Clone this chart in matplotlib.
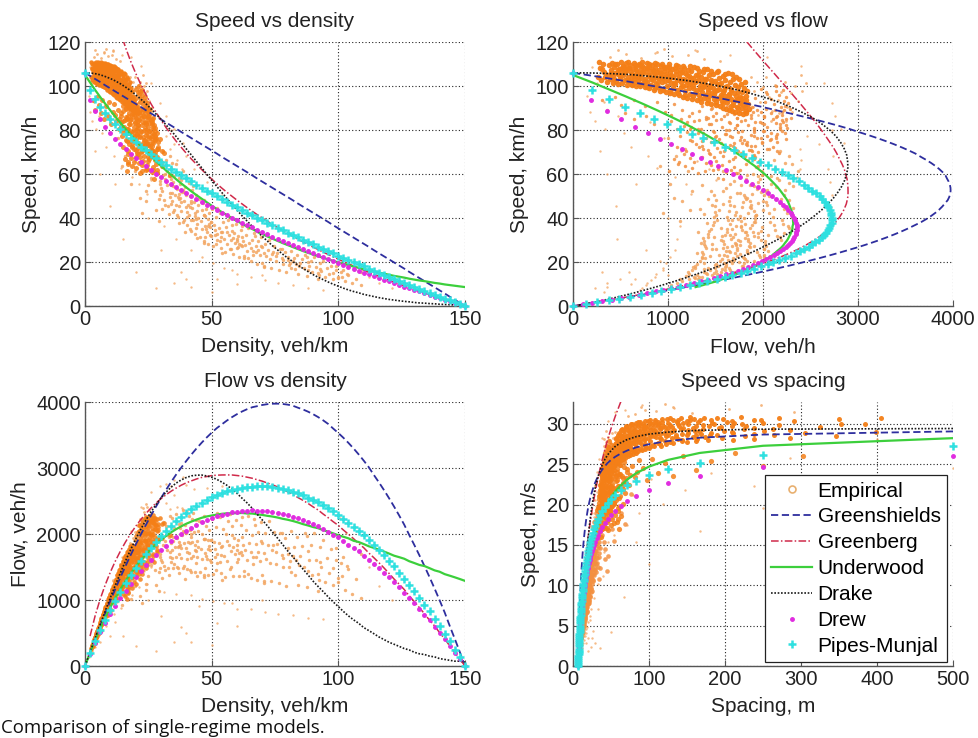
import numpy as np
import matplotlib
matplotlib.use("Agg")
import matplotlib.pyplot as plt
from matplotlib.lines import Line2D

plt.rcParams['font.family'] = ['Liberation Sans', 'DejaVu Sans']

# ---------------- data: model speeds (km/h) at each density (veh/km) ----------------
density = [0, 2, 4, 6, 8, 10, 12, 14, 16, 18, 20, 22, 24, 26, 28, 30, 32, 34, 36, 38,
           40, 42, 44, 46, 48, 50, 52, 54, 56, 58, 60, 62, 64, 66, 68, 70, 72, 74, 76, 78,
           80, 82, 84, 86, 88, 90, 92, 94, 96, 98, 100, 102, 104, 106, 108, 110, 112, 114,
           116, 118, 120, 122, 124, 126, 128, 130, 132, 134, 136, 138, 140, 142, 144, 146,
           148, 150]

v_greenshields = [106.0, 104.6, 103.2, 101.8, 100.3, 98.9, 97.5, 96.1, 94.7, 93.3,
                  91.9, 90.5, 89.0, 87.6, 86.2, 84.8, 83.4, 82.0, 80.6, 79.1,
                  77.7, 76.3, 74.9, 73.5, 72.1, 70.7, 69.3, 67.8, 66.4, 65.0,
                  63.6, 62.2, 60.8, 59.4, 57.9, 56.5, 55.1, 53.7, 52.3, 50.9,
                  49.5, 48.1, 46.6, 45.2, 43.8, 42.4, 41.0, 39.6, 38.2, 36.7,
                  35.3, 33.9, 32.5, 31.1, 29.7, 28.3, 26.9, 25.4, 24.0, 22.6,
                  21.2, 19.8, 18.4, 17.0, 15.5, 14.1, 12.7, 11.3, 9.9, 8.5,
                  7.1, 5.7, 4.2, 2.8, 1.4, 0.0]

v_greenberg = [np.nan, 226.7, 190.3, 169.0, 153.9, 142.2, 132.6, 124.5, 117.5, 111.3,
               105.8, 100.8, 96.2, 92.0, 88.1, 84.5, 81.1, 77.9, 74.9, 72.1,
               69.4, 66.8, 64.4, 62.1, 59.8, 57.7, 55.6, 53.6, 51.7, 49.9,
               48.1, 46.4, 44.7, 43.1, 41.5, 40.0, 38.5, 37.1, 35.7, 34.3,
               33.0, 31.7, 30.4, 29.2, 28.0, 26.8, 25.7, 24.5, 23.4, 22.3,
               21.3, 20.2, 19.2, 18.2, 17.2, 16.3, 15.3, 14.4, 13.5, 12.6,
               11.7, 10.8, 10.0, 9.2, 8.3, 7.5, 6.7, 5.9, 5.1, 4.4,
               3.6, 2.9, 2.1, 1.4, 0.7, 0.0]

v_underwood = [105.0, 101.6, 98.2, 95.0, 91.9, 88.9, 86.0, 83.2, 80.4, 77.8,
               75.2, 72.8, 70.4, 68.1, 65.8, 63.7, 61.6, 59.6, 57.6, 55.7,
               53.9, 52.1, 50.4, 48.8, 47.2, 45.6, 44.1, 42.7, 41.3, 39.9,
               38.6, 37.4, 36.1, 35.0, 33.8, 32.7, 31.6, 30.6, 29.6, 28.6,
               27.7, 26.8, 25.9, 25.0, 24.2, 23.4, 22.7, 21.9, 21.2, 20.5,
               19.8, 19.2, 18.6, 17.9, 17.4, 16.8, 16.2, 15.7, 15.2, 14.7,
               14.2, 13.7, 13.3, 12.9, 12.4, 12.0, 11.6, 11.3, 10.9, 10.5,
               10.2, 9.8, 9.5, 9.2, 8.9, 8.6]

v_drake = [106.0, 105.9, 105.6, 105.1, 104.3, 103.4, 102.3, 101.0, 99.5, 97.9,
           96.0, 94.1, 92.0, 89.7, 87.3, 84.9, 82.3, 79.7, 77.0, 74.2,
           71.4, 68.6, 65.7, 62.9, 60.0, 57.2, 54.4, 51.6, 48.9, 46.2,
           43.6, 41.0, 38.6, 36.2, 33.8, 31.6, 29.5, 27.4, 25.5, 23.6,
           21.8, 20.2, 18.6, 17.1, 15.7, 14.3, 13.1, 12.0, 10.9, 9.9,
           9.0, 8.1, 7.3, 6.6, 6.0, 5.3, 4.8, 4.3, 3.8, 3.4,
           3.0, 2.7, 2.4, 2.1, 1.9, 1.6, 1.4, 1.3, 1.1, 1.0,
           0.8, 0.7, 0.6, 0.5, 0.5, 0.4]

v_drew = [106.0, 93.8, 88.7, 84.8, 81.5, 78.6, 76.0, 73.6, 71.4, 69.3,
          67.3, 65.4, 63.6, 61.9, 60.2, 58.6, 57.0, 55.5, 54.1, 52.6,
          51.3, 49.9, 48.6, 47.3, 46.0, 44.8, 43.6, 42.4, 41.2, 40.1,
          39.0, 37.9, 36.8, 35.7, 34.6, 33.6, 32.6, 31.5, 30.5, 29.6,
          28.6, 27.6, 26.7, 25.7, 24.8, 23.9, 23.0, 22.1, 21.2, 20.3,
          19.5, 18.6, 17.7, 16.9, 16.1, 15.2, 14.4, 13.6, 12.8, 12.0,
          11.2, 10.4, 9.6, 8.8, 8.1, 7.3, 6.6, 5.8, 5.1, 4.3,
          3.6, 2.9, 2.1, 1.4, 0.7, 0.0]

v_pipes = [106.0, 98.1, 94.0, 90.6, 87.7, 85.1, 82.7, 80.5, 78.3, 76.3,
           74.4, 72.5, 70.7, 69.0, 67.3, 65.6, 64.1, 62.5, 61.0, 59.5,
           58.0, 56.6, 55.2, 53.8, 52.5, 51.2, 49.9, 48.6, 47.3, 46.1,
           44.8, 43.6, 42.4, 41.2, 40.1, 38.9, 37.8, 36.6, 35.5, 34.4,
           33.3, 32.2, 31.2, 30.1, 29.0, 28.0, 27.0, 25.9, 24.9, 23.9,
           22.9, 21.9, 20.9, 19.9, 19.0, 18.0, 17.0, 16.1, 15.2, 14.2,
           13.3, 12.4, 11.4, 10.5, 9.6, 8.7, 7.8, 6.9, 6.1, 5.2,
           4.3, 3.4, 2.6, 1.7, 0.9, 0.0]

# ---------------- data: empirical observations ----------------
# free-flow core, read as (flow veh/h, speed km/h)
emp_free_qv = [
    (262, 104.3), (281, 108.1), (297, 102.6), (315, 110.2), (328, 106.4), (341, 103.9), (305, 107.7), (273, 110.8),
    (356, 101.8), (368, 105.2), (377, 109.4), (389, 103.1), (396, 107.3), (408, 110.6), (417, 104.7), (426, 101.2),
    (435, 108.5), (444, 106.0), (453, 102.4), (461, 109.8), (469, 105.6), (478, 100.9), (486, 107.9), (494, 103.7),
    (503, 110.9), (511, 106.8), (519, 101.5), (527, 104.9), (536, 108.7), (544, 102.9), (552, 106.2), (559, 110.3),
    (566, 100.6), (574, 104.1), (581, 108.0), (589, 102.2), (597, 106.9), (604, 109.6), (612, 103.4), (619, 100.3),
    (627, 107.5), (634, 105.0), (642, 110.5), (648, 101.9), (653, 104.6), (661, 108.9), (668, 99.8), (676, 106.3),
    (683, 102.8), (691, 110.0), (698, 105.4), (705, 100.7), (712, 107.8), (720, 103.6), (727, 109.3), (735, 101.3),
    (742, 105.9), (748, 108.2), (754, 99.4), (761, 103.0), (768, 107.0), (776, 110.4), (783, 101.6), (790, 105.2),
    (797, 108.6), (805, 98.9), (812, 104.3), (819, 106.7), (826, 100.4), (834, 109.7), (841, 102.7), (848, 106.1),
    (853, 98.3), (860, 104.8), (867, 108.4), (874, 101.1), (881, 106.5), (888, 110.1), (895, 99.6), (902, 103.5),
    (909, 107.2), (916, 97.9), (923, 105.7), (930, 109.0), (937, 101.9), (944, 104.0), (951, 98.1), (958, 106.9),
    (965, 102.4), (972, 108.8), (979, 97.4), (986, 104.6), (993, 100.2), (1000, 107.6), (1007, 103.2), (1014, 109.9),
    (1021, 96.8), (1028, 105.1), (1035, 101.5), (1042, 107.9), (1049, 99.0), (1056, 103.9), (1063, 96.2), (1070, 108.3),
    (1077, 100.8), (1084, 105.5), (1091, 98.4), (1098, 102.9), (1105, 109.2), (1112, 95.7), (1119, 104.2), (1126, 107.1),
    (1133, 99.7), (1140, 101.8), (1147, 106.4), (1154, 95.1), (1161, 103.3), (1168, 108.0), (1175, 97.6), (1182, 105.8),
    (1189, 100.5), (1196, 94.6), (1203, 102.1), (1210, 107.4), (1217, 98.9), (1224, 104.5), (1231, 96.4), (1238, 101.2),
    (1245, 106.8), (1252, 94.0), (1259, 99.3), (1266, 103.7), (1273, 108.6), (1280, 96.9), (1287, 101.6), (1294, 105.2),
    (1301, 93.5), (1308, 98.2), (1315, 102.8), (1322, 107.0), (1329, 95.8), (1336, 100.1), (1343, 104.3), (1350, 92.9),
    (1357, 97.3), (1364, 106.2), (1371, 99.6), (1378, 94.7), (1385, 103.1), (1392, 101.0), (1399, 96.1), (1406, 107.7),
    (1413, 92.4), (1420, 98.8), (1427, 104.9), (1434, 95.3), (1441, 100.6), (1448, 102.5), (1455, 91.8), (1462, 96.7),
    (1469, 105.4), (1476, 99.1), (1483, 93.9), (1490, 102.3), (1497, 97.8), (1504, 91.2), (1511, 100.9), (1518, 106.5),
    (1525, 94.5), (1532, 98.5), (1539, 103.6), (1546, 90.7), (1553, 96.0), (1560, 101.4), (1567, 93.2), (1574, 104.7),
    (1581, 90.1), (1588, 98.0), (1595, 95.4), (1602, 102.6), (1609, 89.6), (1616, 99.9), (1623, 92.8), (1630, 105.9),
    (1637, 96.5), (1644, 89.2), (1651, 101.7), (1658, 94.1), (1665, 98.6), (1672, 88.7), (1679, 103.2), (1686, 91.5),
    (1693, 96.8), (1700, 100.3), (1707, 88.2), (1714, 93.7), (1721, 104.1), (1728, 90.6), (1735, 97.1), (1742, 99.5),
    (1749, 87.8), (1756, 95.0), (1763, 92.3), (1770, 101.0), (1777, 89.9), (1784, 97.4), (1791, 87.3), (1798, 93.0),
    (1805, 99.2), (1812, 90.3), (1819, 95.6), (1826, 88.6), (1833, 97.9), (1840, 92.0), (1848, 89.4),
    (402, 105.8), (433, 103.4), (471, 107.2), (498, 104.4), (523, 109.1), (547, 106.6), (571, 102.9), (593, 108.3),
    (617, 105.6), (639, 103.0), (663, 107.1), (687, 104.0), (709, 109.5), (731, 106.2), (757, 102.1), (779, 108.1),
    (802, 105.0), (823, 103.1), (845, 107.4), (869, 104.1), (891, 101.7), (913, 106.0), (934, 103.7), (956, 108.1),
    (978, 105.3), (1001, 102.6), (1023, 106.3), (1045, 104.0), (1067, 101.3), (1089, 107.0), (1111, 103.3), (1131, 105.8),
    (1157, 100.1), (1179, 102.7), (1201, 105.0), (1222, 101.4), (1246, 103.8), (1268, 99.8), (1291, 102.4), (1312, 104.9),
    (1334, 98.6), (1356, 101.8), (1379, 100.0), (1401, 103.4), (1423, 97.4), (1446, 99.7), (1468, 101.8), (1489, 96.3),
    (1512, 98.1), (1534, 100.9), (1556, 94.9), (1578, 97.3), (1601, 99.6), (1622, 93.9), (1645, 96.0), (1668, 98.1),
    (1689, 92.6), (1712, 95.3), (1734, 94.0), (1757, 92.8), (1779, 94.6), (1802, 91.2), (1825, 93.5),
    (445, 109.9), (512, 108.2), (583, 110.8), (655, 109.7), (722, 110.9), (795, 109.9), (866, 110.6), (940, 110.2),
    (1012, 108.7), (1087, 109.6), (1158, 109.3), (1233, 108.9), (1305, 108.3), (1380, 107.9), (1452, 106.9), (1525, 106.8),
    (1598, 105.4), (1672, 105.3), (1744, 103.1), (1815, 101.8),
    (620, 101.0), (700, 100.2), (780, 99.7), (860, 99.0), (940, 98.6), (1020, 97.6), (1100, 96.9), (1180, 96.0),
    (1260, 95.4), (1340, 94.4), (1420, 93.7), (1500, 92.8), (1580, 92.1), (1660, 90.9), (1740, 90.0), (1820, 87.6),
]

# lighter fringe of the free-flow core, (flow veh/h, speed km/h)
emp_fringe_qv = [
    (390, 113.2), (560, 114.6), (720, 112.8), (880, 115.3), (1040, 113.5), (1210, 114.1), (1380, 112.4), (1550, 111.5),
    (470, 116.2), (960, 116.8), (1300, 115.7),
    (1870, 104.2), (1905, 97.6), (1938, 101.8), (1966, 92.5), (2002, 99.4), (2035, 103.9), (2061, 95.1), (2098, 88.7),
    (2124, 100.6), (2157, 93.8), (2190, 97.2), (2228, 102.0), (2255, 90.4), (2290, 96.6), (2332, 99.8), (2370, 93.1),
    (2410, 97.9), (2455, 101.3), (1890, 90.3), (1950, 86.6), (2080, 84.2), (2170, 87.5), (2240, 83.9), (2310, 88.3),
    (2395, 104.8),
]

# transition part of the cloud, (flow veh/h, speed km/h)
emp_trans_qv = [
    (1010, 61.2), (1180, 63.8), (1320, 60.5), (1450, 64.1), (1530, 62.3), (1610, 60.9), (1690, 63.2), (1760, 61.7),
    (1820, 64.6), (1250, 62.7), (1390, 61.5), (1570, 63.9), (1720, 60.3), (1100, 64.4), (1660, 62.0),
    (1060, 66.8), (1170, 68.9), (1270, 65.4), (1360, 67.6), (1440, 69.3), (1510, 66.1), (1580, 68.2), (1640, 65.7),
    (1700, 67.9), (1770, 69.6), (1840, 66.5), (1900, 68.7), (1960, 65.9), (1230, 67.2), (1400, 65.2), (1550, 69.8),
    (1680, 66.9), (1810, 68.1), (1480, 67.9), (1120, 65.6),
    (1090, 72.4), (1190, 70.6), (1290, 73.8), (1370, 71.2), (1450, 74.5), (1520, 72.0), (1590, 70.3), (1650, 73.3),
    (1710, 71.7), (1780, 74.2), (1850, 70.9), (1920, 72.8), (1990, 74.7), (2060, 71.4), (1250, 74.9), (1420, 70.8),
    (1560, 73.9), (1680, 72.6), (1820, 73.6), (1950, 70.2), (1330, 72.1), (1740, 70.5),
    (1130, 77.3), (1230, 75.6), (1320, 78.8), (1400, 76.2), (1470, 79.4), (1540, 75.9), (1610, 78.1), (1670, 76.7),
    (1740, 79.2), (1800, 75.4), (1870, 77.8), (1940, 76.5), (2010, 79.7), (2080, 75.8), (2150, 78.4), (1360, 75.1),
    (1500, 77.5), (1640, 79.9), (1770, 77.0), (1900, 79.1), (2040, 77.2), (1200, 79.0),
    (1170, 81.6), (1270, 83.9), (1350, 80.4), (1430, 82.8), (1500, 84.6), (1570, 81.2), (1640, 83.5), (1700, 80.7),
    (1770, 84.2), (1840, 82.1), (1900, 80.2), (1970, 83.7), (2040, 81.4), (2110, 84.8), (2180, 82.5), (2250, 80.9),
    (1400, 84.9), (1610, 80.1), (1810, 84.6), (2010, 82.9), (1230, 80.6), (1730, 82.4),
    (1220, 86.4), (1330, 88.7), (1420, 85.6), (1510, 87.9), (1590, 86.2), (1660, 89.5), (1730, 85.3), (1800, 88.1),
    (1870, 86.8), (1940, 89.2), (2010, 85.9), (2080, 87.6), (2150, 86.3), (2220, 88.9), (2290, 85.5), (1460, 89.8),
    (1690, 87.1), (1980, 88.0),
]

# transition part of the cloud, (density veh/km, speed km/h)
emp_trans_kv = [
    (11.9, 86.6), (13.3, 85.2), (14.3, 83.7), (15.3, 81.4), (16.3, 85.8), (16.4, 80.3), (17.6, 82.5), (17.4, 78.6),
    (18.3, 84.9), (18.8, 79.2), (19.5, 76.7), (19.8, 83.4), (20.2, 85.6), (20.5, 78.1), (24.6, 74.5), (21.0, 82.3),
    (18.6, 72.8), (21.4, 77.4), (22.0, 85.3), (22.3, 79.6), (22.8, 74.2), (22.9, 83.5), (26.5, 70.7), (23.3, 86.4),
    (23.6, 80.8), (23.4, 75.3), (24.0, 83.1), (20.5, 69.6), (24.7, 77.2), (24.8, 86.1), (24.9, 73.4), (25.2, 79.5),
    (28.3, 67.8), (25.6, 83.3), (25.8, 72.6), (25.4, 86.7), (25.9, 76.4), (26.0, 84.6), (22.0, 65.5), (26.3, 85.2),
    (26.5, 78.7), (26.7, 70.4), (26.8, 81.3), (26.4, 83.8), (26.9, 74.1), (27.0, 80.6), (27.2, 82.4), (30.5, 63.7),
    (27.5, 75.5), (27.7, 77.3), (27.8, 68.2), (27.6, 79.7), (28.0, 76.4), (24.0, 61.6), (28.4, 78.5), (28.6, 71.3),
    (28.8, 74.6), (28.5, 66.8), (29.0, 72.5), (33.5, 59.4), (29.6, 75.8), (30.0, 65.3), (30.4, 70.6), (27.4, 57.7),
    (31.2, 69.4),
    (20.8, 90.4), (21.5, 88.3), (21.8, 92.6), (22.2, 94.1), (22.7, 89.7), (23.0, 91.8), (23.5, 95.2), (23.8, 93.3),
    (23.9, 88.9), (24.2, 90.5), (24.5, 92.2), (24.6, 90.9), (25.0, 88.1), (25.5, 89.4), (20.0, 98.7), (20.3, 94.4),
    (20.9, 97.2), (21.2, 96.3), (21.3, 100.2), (21.9, 97.6), (22.5, 98.3), (22.6, 95.8),
    (3.3, 93.5), (4.0, 89.2), (4.7, 95.1), (5.5, 91.3), (6.2, 87.6), (6.9, 93.8), (7.6, 84.9), (8.3, 90.7),
    (8.9, 86.2), (9.6, 92.5), (10.3, 82.8), (10.9, 88.4), (11.6, 91.7), (12.3, 84.1), (12.9, 89.3), (13.6, 80.5),
    (14.2, 87.9), (14.9, 91.1), (15.6, 84.7), (16.2, 89.6), (17.1, 86.4), (17.9, 90.8), (18.6, 87.2), (19.3, 91.5),
    (19.9, 88.6),
]

# congested band, (density veh/km, speed km/h)
emp_band_kv = [
    (30.2, 52.4), (30.5, 63.1), (30.9, 70.6), (31.3, 48.2), (31.6, 57.7), (31.9, 66.3), (32.2, 54.8), (32.5, 61.2),
    (32.8, 45.5), (33.1, 58.9), (33.4, 68.1), (33.7, 51.3), (34.0, 62.6), (34.3, 47.9), (34.6, 56.4), (34.9, 42.7),
    (35.2, 59.2), (35.5, 50.6), (35.8, 64.4), (36.1, 45.8), (36.4, 53.3), (36.7, 40.5), (37.0, 58.1), (37.3, 48.7),
    (37.6, 55.5), (37.9, 43.2), (38.2, 51.9), (38.5, 61.4), (38.8, 38.3), (39.1, 47.6), (39.4, 54.2), (39.7, 44.9),
    (40.0, 50.3), (40.3, 36.6), (40.6, 46.1), (40.9, 55.7), (41.2, 41.4), (41.5, 49.8), (41.8, 34.2), (42.1, 44.5),
    (42.4, 52.6), (42.7, 39.1), (43.0, 47.3), (43.3, 32.8), (43.6, 42.2), (43.9, 50.5), (44.2, 37.4), (44.5, 45.9),
    (44.8, 40.2), (45.1, 48.6), (45.4, 31.3), (45.7, 38.8), (46.0, 43.5), (46.3, 35.1), (46.6, 46.8), (46.9, 29.4),
    (47.2, 40.7), (47.5, 36.2), (47.8, 44.3), (48.1, 33.6), (48.4, 39.5), (48.7, 28.3), (49.0, 42.1), (49.3, 35.8),
    (49.6, 31.7), (49.9, 38.4), (50.3, 44.2), (50.7, 27.5), (51.1, 36.9), (51.5, 32.1), (51.9, 40.6), (52.3, 29.8),
    (52.7, 35.3), (53.1, 42.4), (53.5, 26.2), (53.9, 33.7), (54.3, 38.2), (54.7, 30.5), (55.1, 24.6), (55.5, 35.9),
    (55.9, 28.4), (56.3, 39.1), (56.7, 32.3), (57.1, 25.7), (57.5, 30.2), (57.9, 36.6), (58.3, 23.5), (58.7, 33.1),
    (59.1, 28.8), (59.5, 37.2), (59.9, 26.4), (60.4, 31.6), (60.9, 22.3), (61.4, 34.7), (61.9, 27.1), (62.4, 29.5),
    (62.9, 21.6), (63.4, 32.4), (63.9, 25.2), (64.4, 35.3), (64.9, 28.7), (65.4, 20.4), (65.9, 30.1), (66.4, 24.8),
    (66.9, 33.2), (67.4, 27.5), (67.9, 19.3), (68.4, 29.6), (68.9, 23.1), (69.4, 31.4), (69.9, 26.7), (70.5, 18.2),
    (71.0, 28.4), (71.6, 22.6), (72.2, 25.3), (72.8, 30.1), (73.4, 17.5), (74.0, 23.8), (74.6, 27.2), (75.2, 20.6),
    (75.8, 24.3), (76.4, 16.4), (77.0, 26.1), (77.6, 21.7), (78.2, 19.2), (78.8, 24.6), (79.4, 15.3), (80.0, 22.4),
    (80.7, 18.5), (81.4, 25.2), (82.1, 20.3), (82.8, 16.6), (83.5, 23.4), (84.2, 14.5), (84.9, 19.7), (85.6, 21.2),
    (86.3, 17.3), (87.0, 23.1), (87.7, 13.6), (88.4, 18.2), (89.1, 20.5), (89.8, 15.4), (90.5, 22.2), (91.2, 17.6),
    (91.9, 12.3), (92.6, 19.4), (93.3, 16.1), (94.0, 20.3), (94.7, 13.4), (95.5, 17.2), (96.3, 14.6), (97.1, 18.3),
    (98.0, 12.5), (99.0, 16.2), (100.0, 13.3), (101.2, 15.4), (102.5, 11.2), (104.0, 14.1), (105.5, 10.4),
    (107.0, 12.3), (109.0, 9.5),
    (31.4, 60.2), (33.9, 55.1), (36.6, 49.4), (39.2, 51.7), (41.9, 46.6), (44.1, 43.1), (46.8, 41.2), (48.9, 37.1),
    (51.3, 34.6), (53.8, 31.4), (56.1, 33.8), (58.5, 30.9), (60.7, 28.2), (63.1, 27.8), (65.6, 26.3), (68.1, 25.4),
    (70.8, 24.1), (73.1, 21.4), (75.5, 22.8), (78.0, 20.9), (81.0, 19.6), (84.5, 18.1), (88.0, 16.4), (92.0, 15.2),
    (34.5, 64.8), (37.8, 57.3), (42.6, 54.4), (47.1, 48.3), (52.0, 44.6), (57.2, 40.3), (62.0, 36.5), (67.2, 31.9),
]

# congested plume as seen in the speed-flow plane, (flow veh/h, speed km/h)
emp_plume_qv = [
    (1310, 14.2), (1420, 17.5), (1280, 12.8), (1610, 19.3), (1700, 15.6), (1790, 18.1), (1380, 19.7), (1480, 15.1),
    (1570, 16.9), (1360, 13.4), (1750, 19.9), (1650, 16.2), (1260, 17.8), (1520, 14.7),
    (1300, 24.1), (1390, 21.6), (1460, 28.3), (1540, 23.2), (1620, 26.8), (1690, 21.1), (1760, 29.4), (1830, 24.7),
    (1900, 27.3), (1970, 22.5), (1350, 28.8), (1500, 26.0), (1650, 24.4), (1800, 21.8), (1440, 22.9), (1720, 27.9),
    (1580, 29.6), (2010, 25.8),
    (1320, 33.5), (1410, 37.8), (1480, 31.2), (1560, 35.6), (1630, 39.1), (1700, 32.7), (1770, 36.4), (1840, 30.6),
    (1910, 38.3), (1980, 34.2), (1370, 30.9), (1520, 38.9), (1670, 35.1), (1810, 33.8), (1950, 31.5), (1450, 35.0),
    (1740, 39.6), (1600, 32.4),
    (1340, 44.2), (1420, 48.6), (1500, 41.5), (1580, 46.3), (1650, 49.4), (1720, 42.8), (1790, 47.1), (1860, 44.9),
    (1930, 41.2), (2000, 47.8), (1380, 41.8), (1540, 43.7), (1690, 45.6), (1830, 49.0), (1460, 46.0), (1760, 40.7),
    (1620, 40.4),
    (1360, 55.1), (1450, 52.4), (1530, 58.3), (1610, 53.6), (1690, 56.9), (1760, 51.2), (1830, 59.4), (1900, 54.5),
    (1970, 57.8), (2040, 52.9), (1580, 61.2), (1740, 60.3), (1880, 50.8), (1480, 50.3), (1650, 55.5),
    (950, 42.3), (1020, 55.6), (1080, 68.4), (1150, 47.9), (1210, 61.3), (1000, 76.5), (1130, 38.6), (1250, 52.1),
    (1060, 49.2), (1180, 71.4), (920, 63.5), (1230, 43.8),
]

# scattered outliers, (density veh/km, speed km/h)
emp_sparse_kv = [
    (1.5, 95.3), (2.0, 88.4), (2.5, 101.2), (1.8, 108.6), (2.7, 84.1), (3.5, 92.7), (4.2, 80.3), (5.5, 86.2),
    (6.8, 78.5), (8.4, 72.1), (9.7, 83.6), (11.5, 68.2), (12.6, 76.4), (14.1, 62.8), (16.2, 70.3), (18.4, 58.6),
    (19.7, 66.1), (21.5, 55.4), (23.1, 62.2), (24.6, 50.7), (26.2, 57.3), (7.5, 115.2), (11.0, 116.4), (14.5, 114.1),
    (18.0, 113.3), (22.0, 109.2), (26.0, 101.5), (29.5, 92.4), (32.0, 86.3), (35.0, 80.6), (38.5, 74.2), (31.0, 36.4),
    (36.0, 30.3), (42.0, 25.6), (46.0, 22.2), (50.5, 19.4), (55.0, 17.3), (60.0, 14.5), (65.5, 13.2), (71.0, 11.6),
    (76.0, 10.3), (82.0, 9.4), (88.0, 8.2), (94.0, 7.5), (100.5, 22.3), (103.0, 19.6), (108.0, 16.2), (112.0, 13.4),
    (116.0, 10.5), (121.0, 8.3), (96.0, 25.4), (90.0, 28.3), (84.0, 31.5), (78.0, 34.2), (72.0, 37.6), (66.0, 41.3),
    (60.0, 45.2), (54.0, 50.4), (48.0, 56.3), (43.0, 62.5), (40.0, 68.4), (20.0, 15.3), (40.0, 12.4), (60.0, 10.2),
    (30.0, 25.5), (70.0, 14.3), (15.0, 30.6), (25.0, 40.2), (38.0, 15.4), (45.0, 20.3), (52.0, 12.5), (58.0, 16.4),
    (42.0, 8.6), (35.0, 10.3), (28.0, 8.2), (50.0, 6.5), (10.0, 45.3), (12.0, 55.4), (6.0, 60.2), (4.0, 70.3),
    (33.5, 71.2), (36.2, 66.4), (31.8, 77.5), (38.4, 62.3), (35.1, 73.8), (40.2, 58.6), (34.0, 80.2),
]

# ---------------- styles ----------------
C_EMP = '#f47f17'
C_EMP_MID = '#f39040'
C_EMP_LIGHT = '#f3a560'
C_GS = '#2e2e9e'
C_GB = '#d02a4a'
C_UW = '#3ccf3c'
C_DK = '#1a1a1a'
C_DW = '#e02ce0'
C_PM = '#2fe0e0'
FS = 14.5


def kv_from_qv(pairs):
    q = np.array([p[0] for p in pairs], float)
    v = np.array([p[1] for p in pairs], float)
    return q / v, v


def kv_from_kv(pairs):
    return (np.array([p[0] for p in pairs], float),
            np.array([p[1] for p in pairs], float))


def to_xy(kind, k, v):
    k = np.asarray(k, float)
    v = np.asarray(v, float)
    if kind == 'vk':
        return k, v
    if kind == 'vq':
        return k * v, v
    if kind == 'qk':
        return k, k * v
    safe = np.where(k > 0, k, np.nan)
    return 1000.0 / safe, v / 3.6


W, H = 979.0, 738.0
panels = [
    dict(kind='vk', px=(85, 42, 465, 306), title='Speed vs density',
         xlabel='Density, veh/km', ylabel='Speed, km/h',
         xlim=(0, 150), ylim=(0, 120), xticks=[0, 50, 100, 150],
         yticks=[0, 20, 40, 60, 80, 100, 120], core_s=10, trans_s=13, band_s=6),
    dict(kind='vq', px=(573, 42, 953, 306), title='Speed vs flow',
         xlabel='Flow, veh/h', ylabel='Speed, km/h',
         xlim=(0, 4000), ylim=(0, 120), xticks=[0, 1000, 2000, 3000, 4000],
         yticks=[0, 20, 40, 60, 80, 100, 120], core_s=16, trans_s=6, band_s=6),
    dict(kind='qk', px=(85, 402, 465, 666), title='Flow vs density',
         xlabel='Density, veh/km', ylabel='Flow, veh/h',
         xlim=(0, 150), ylim=(0, 4000), xticks=[0, 50, 100, 150],
         yticks=[0, 1000, 2000, 3000, 4000], core_s=10, trans_s=11, band_s=6),
    dict(kind='vs', px=(573, 402, 953, 666), title='Speed vs spacing',
         xlabel='Spacing, m', ylabel='Speed, m/s',
         xlim=(0, 500), ylim=(0, 32.7), xticks=[0, 100, 200, 300, 400, 500],
         yticks=[0, 5, 10, 15, 20, 25, 30], core_s=13, trans_s=14, band_s=11),
]

free_k, free_v = kv_from_qv(emp_free_qv)
fringe_k, fringe_v = kv_from_qv(emp_fringe_qv)
tq_k, tq_v = kv_from_qv(emp_trans_qv)
tk_k, tk_v = kv_from_kv(emp_trans_kv)
trans_k = np.concatenate([tq_k, tk_k])
trans_v = np.concatenate([tq_v, tk_v])
bk_k, bk_v = kv_from_kv(emp_band_kv)
pq_k, pq_v = kv_from_qv(emp_plume_qv)
band_k = np.concatenate([bk_k, pq_k])
band_v = np.concatenate([bk_v, pq_v])
sparse_k, sparse_v = kv_from_kv(emp_sparse_kv)

fig = plt.figure(figsize=(9.79, 7.38), dpi=100)

for p in panels:
    x0, y0, x1, y1 = p['px']
    ax = fig.add_axes([x0 / W, (H - y1) / H, (x1 - x0) / W, (y1 - y0) / H])
    kind = p['kind']

    # empirical cloud
    x, y = to_xy(kind, sparse_k, sparse_v)
    ax.scatter(x, y, s=3, color=C_EMP_LIGHT, alpha=0.75, linewidths=0, zorder=1)
    x, y = to_xy(kind, fringe_k, fringe_v)
    ax.scatter(x, y, s=4, color=C_EMP_LIGHT, alpha=0.8, linewidths=0, zorder=1)
    x, y = to_xy(kind, band_k, band_v)
    ax.scatter(x, y, s=p['band_s'], color=C_EMP_MID if kind == 'vs' else C_EMP_LIGHT,
               alpha=0.85, linewidths=0, zorder=1)
    x, y = to_xy(kind, trans_k, trans_v)
    ax.scatter(x, y, s=p['trans_s'], color=C_EMP if kind != 'vq' else C_EMP_MID,
               alpha=0.85, linewidths=0, zorder=1.1)
    x, y = to_xy(kind, free_k, free_v)
    ax.scatter(x, y, s=p['core_s'], color=C_EMP, alpha=0.95, linewidths=0, zorder=1.2)

    # models
    x, y = to_xy(kind, density, v_greenshields)
    ax.plot(x, y, color=C_GS, lw=1.3, ls=(0, (4, 2)), zorder=3)
    x, y = to_xy(kind, density, v_greenberg)
    ax.plot(x, y, color=C_GB, lw=1.1, ls=(0, (5, 1.5, 1, 1.5)), zorder=3)
    x, y = to_xy(kind, density, v_underwood)
    ax.plot(x, y, color=C_UW, lw=1.6, ls='-', zorder=3)
    x, y = to_xy(kind, density, v_drake)
    ax.plot(x, y, color=C_DK, lw=1.2, ls=(0, (1, 1)), zorder=3)
    x, y = to_xy(kind, density, v_drew)
    ax.plot(x, y, ls='none', marker='.', color=C_DW, ms=5, zorder=4, clip_on=False)
    x, y = to_xy(kind, density, v_pipes)
    ax.plot(x, y, ls='none', marker='+', color=C_PM, ms=6, mew=1.8, zorder=5, clip_on=False)

    ax.set_xlim(*p['xlim'])
    ax.set_ylim(*p['ylim'])
    ax.set_xticks(p['xticks'])
    ax.set_yticks(p['yticks'])
    ax.grid(True, color='#222222', ls=(0, (1, 2)), lw=0.8)
    ax.set_axisbelow(True)
    for s in ('top', 'right'):
        ax.spines[s].set_visible(False)
    for s in ('left', 'bottom'):
        ax.spines[s].set_color('#555555')
        ax.spines[s].set_linewidth(1.0)
    ax.tick_params(direction='in', length=4, color='#555555', labelsize=FS,
                   labelcolor='#222222', pad=3)
    ax.set_title(p['title'], fontsize=15, color='#222222', pad=11)
    ax.set_xlabel(p['xlabel'], fontsize=15, color='#222222', labelpad=6)
    ax.set_ylabel(p['ylabel'], fontsize=15, color='#222222', labelpad=5)

    if kind == 'vs':
        handles = [
            Line2D([], [], ls='none', marker='o', mfc='none', mec='#e8b070', ms=5, mew=1.2),
            Line2D([], [], color=C_GS, lw=1.3, ls=(0, (4, 2))),
            Line2D([], [], color=C_GB, lw=1.1, ls=(0, (5, 1.5, 1, 1.5))),
            Line2D([], [], color=C_UW, lw=1.6),
            Line2D([], [], color=C_DK, lw=1.2, ls=(0, (1, 1))),
            Line2D([], [], ls='none', marker='.', color=C_DW, ms=5),
            Line2D([], [], ls='none', marker='+', color=C_PM, ms=6, mew=1.8),
        ]
        labels = ['Empirical', 'Greenshields', 'Greenberg', 'Underwood', 'Drake',
                  'Drew', 'Pipes-Munjal']
        leg = ax.legend(handles, labels, loc='lower right', bbox_to_anchor=(0.984, 0.015),
                        fontsize=15, frameon=True, fancybox=False, framealpha=1,
                        edgecolor='#222222', borderpad=0.3, labelspacing=0.33,
                        handlelength=2.0, handletextpad=0.25, borderaxespad=0)
        leg.get_frame().set_linewidth(0.9)
        leg.set_zorder(10)

fig.text(1 / W, (H - 728) / H, 'Comparison of single-regime models.',
         fontsize=13.4, color='#111111', va='center', ha='left',
         family=['Open Sans', 'DejaVu Sans'])

fig.savefig('out.png', dpi=100)
